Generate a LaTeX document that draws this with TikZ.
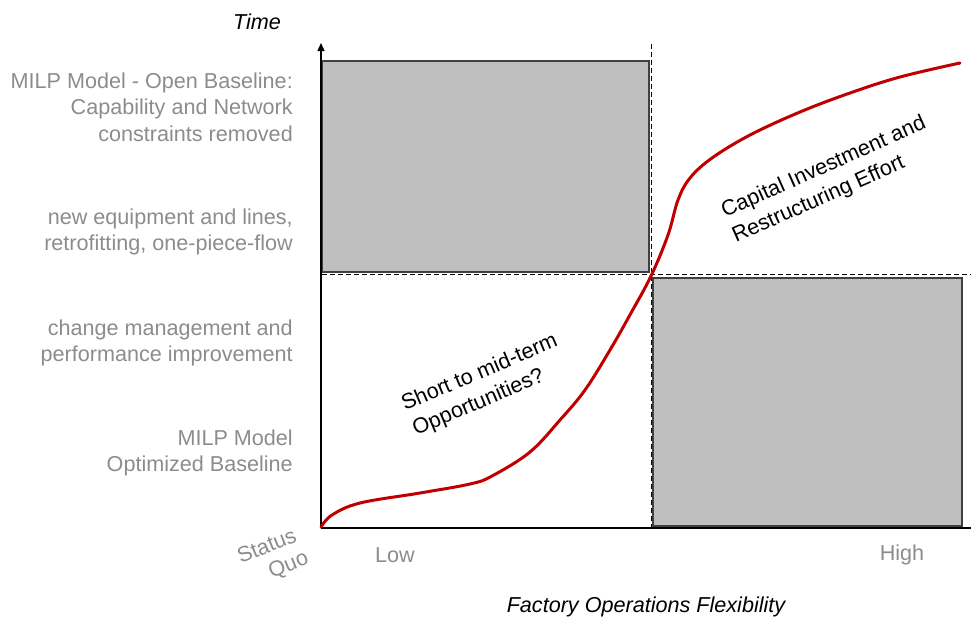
\documentclass[tikz,border=0pt]{standalone}
\usepackage{fontspec}
\setmainfont{Liberation Sans}
\usetikzlibrary{arrows.meta}
\definecolor{labelgray}{HTML}{8C8C8C}
\definecolor{boxgray}{HTML}{BFBFBF}
\definecolor{boxedge}{HTML}{404040}
\definecolor{curvered}{HTML}{C00000}
\tikzset{
  sidelabel/.style={anchor=east, align=right, text=labelgray, inner sep=0pt,
    font=\fontsize{21.6}{26.5}\selectfont},
  axislabel/.style={text=black, inner sep=0pt, font=\fontsize{21.6}{24}\selectfont\itshape},
  ticklabel/.style={text=labelgray, inner sep=0pt, font=\fontsize{21.6}{24}\selectfont},
  zoneline/.style={text=black, anchor=base west, inner sep=0pt,
    font=\fontsize{21.6}{27}\selectfont},
  areabox/.style={fill=boxgray, draw=boxedge, line width=1.5pt},
  divider/.style={draw=black, dashed, line width=0.9pt, dash pattern=on 5pt off 3pt},
  axisline/.style={draw=black, line width=1.3pt},
  trend/.style={draw=curvered, line width=3pt, line cap=round},
}
\begin{document}
\begin{tikzpicture}[x=1pt,y=-1pt]
\useasboundingbox (0,0) rectangle (971,621);

% shaded areas
\path[areabox] (322,61) rectangle (649,272);
\path[areabox] (653,278) rectangle (962,526);

% quadrant dividers
\coordinate (vtop) at (651,44);
\coordinate (vbot) at (651,527);
\coordinate (hleft) at (322,274);
\coordinate (hright) at (971,274);
\draw[divider] (vtop) -- (vbot);
\draw[divider] (hleft) -- (hright);

% axes
\coordinate (origin) at (321,528);
\coordinate (ytip) at (321,43);
\coordinate (xend) at (971,528);
\draw[axisline, -{Triangle[length=8pt,width=7pt]}] (origin) -- (ytip);
\draw[axisline] (origin) -- (xend);

% flexibility / time trade-off curve
\draw[trend] plot[smooth, tension=0.6] coordinates {
  (321,527) (332,515) (360,503) (420,493) (470,484) (492,476)
  (530,452) (560,420) (585,390) (610,350) (631,313) (651,276)
  (668,235) (678,200) (690,178) (712,158) (750,135) (800,112)
  (850,93) (900,77) (960,63)};

% axis titles
\node[axislabel] (timelbl) at (257,22) {Time};
\node[axislabel] (flexlbl) at (646,607) {Factory Operations Flexibility};
\node[ticklabel] (low) at (395,555) {Low};
\node[ticklabel] (high) at (902,555) {High};
\node[ticklabel, align=center, rotate=22] (sq) at (272,559) {Status\\[1pt]\hspace*{1.2em}Quo};

% levels on the time axis
\node[sidelabel] (lvlA) at (293,107) {MILP Model - Open Baseline:\\Capability and Network\\constraints removed};
\node[sidelabel] (lvlB) at (293,232) {new equipment and lines,\\retrofitting, one-piece-flow};
\node[sidelabel] (lvlC) at (293,343) {change management and\\performance improvement};
\node[sidelabel] (lvlD) at (293,453) {MILP Model\\Optimized Baseline};

% zone annotations, one node per line
\node[zoneline, rotate=23] (short1) at (405,411) {Short to mid-term};
\node[zoneline, rotate=23] (short2) at (416,436) {Opportunities?};
\node[zoneline, rotate=24] (capex1) at (725,218) {Capital Investment and};
\node[zoneline, rotate=24] (capex2) at (736,243) {Restructuring Effort};
\end{tikzpicture}
\end{document}
